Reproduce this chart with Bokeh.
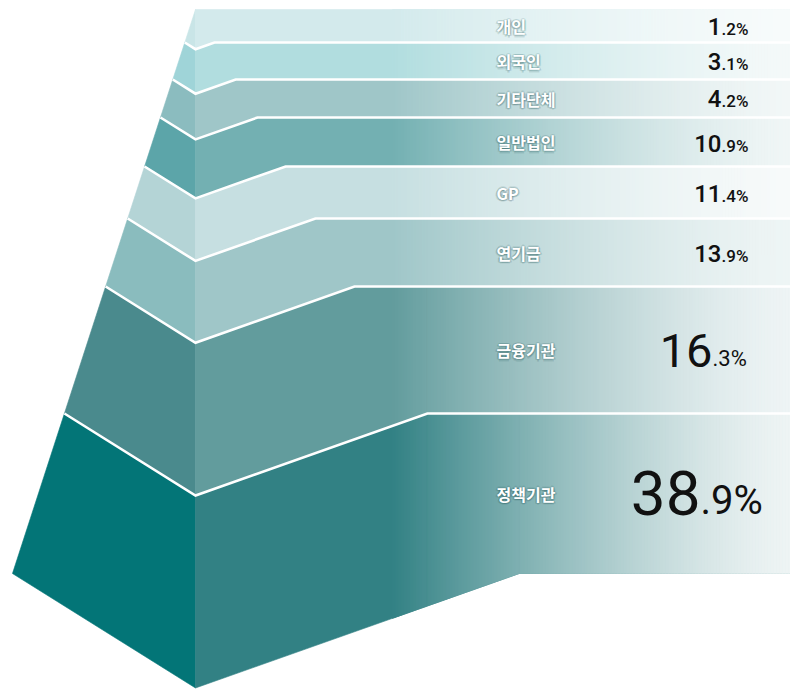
import numpy as np
from bokeh.plotting import figure
from bokeh.models import Range1d, ColumnDataSource
from bokeh.core.properties import value
from bokeh.embed import file_html
from bokeh.resources import INLINE

# ---- data ----
categories = ["개인", "외국인", "기타단체", "일반법인", "GP", "연기금", "금융기관", "정책기관"]
shares = [1.2, 3.1, 4.2, 10.9, 11.4, 13.9, 16.3, 38.9]

# ---- layout / styling ----
band_heights = [33, 37, 38, 49, 52, 68, 127, 160]
left_colors = ["#c9e5e7", "#9fd4d8", "#8bbcbf", "#5ca5a9", "#b4d4d6", "#8abcbe", "#4a8a8d", "#037577"]
right_start = ["#d3eaec", "#b1dddf", "#9fc6c8", "#73b0b2", "#c6dfe1", "#9fc6c8", "#629c9d", "#328184"]
right_end = ["#f7fbfb", "#f4f9f9", "#f2f7f7", "#f0f6f6", "#f7fafa", "#eef5f5", "#eef4f5", "#eef4f4"]
int_sizes = [24, 24, 24, 24, 24, 24, 47, 62]
dec_sizes = [17, 17, 17, 17, 17, 17, 22, 40]
split_x = [721, 721, 721, 721, 721, 721, 712, 700]
baseline_drop = [8.5, 8.5, 8.5, 9.5, 9.5, 9.5, 16.5, 21]
num_fonts = ["Roboto Medium, Roboto"] * 6 + ["Roboto"] * 2

W, H = 790, 691
TOP, CX = 9, 195
LEFT_SLOPE, DEPTH, RIGHT_RUN = 0.3245, 0.203, 0.574
G0 = 392
MID = 0.35  # em offset from alphabetic baseline to "middle"

yh = TOP + np.concatenate([[0], np.cumsum(band_heights)])


def bnd(k):
    t = yh[k] - TOP
    return CX - LEFT_SLOPE * t, yh[k] + DEPTH * t, CX + RIGHT_RUN * t


def right_y(k, x):
    lx, vy, kx = bnd(k)
    if kx <= CX or x >= kx:
        return float(yh[k])
    return vy - (vy - yh[k]) * (x - CX) / (kx - CX)


def hex2rgb(h):
    h = h.lstrip("#")
    return np.array([int(h[i:i + 2], 16) for i in (0, 2, 4)], dtype=float)


def mix(a, b, f):
    c = hex2rgb(a) * (1 - f) + hex2rgb(b) * f
    return "#%02x%02x%02x" % tuple(int(round(v)) for v in c)


p = figure(width=W, height=H, output_backend="svg", toolbar_location=None,
           x_range=Range1d(0, W), y_range=Range1d(H, 0),
           x_axis_type=None, y_axis_type=None, min_border=0,
           min_border_left=0, min_border_right=0, min_border_top=0, min_border_bottom=0)
p.grid.visible = False
p.outline_line_color = None
p.background_fill_color = "white"
p.border_fill_color = "white"

n = len(categories)
lxs, lys, lcs = [], [], []
rxs, rys, rcs = [], [], []
gxs, gys, gcs = [], [], []
for i in range(n):
    lx0, vy0, kx0 = bnd(i)
    lx1, vy1, kx1 = bnd(i + 1)
    lxs.append([lx0, CX, CX, lx1])
    lys.append([yh[i], vy0, vy1, yh[i + 1]])
    lcs.append(left_colors[i])
    rxs.append([CX, kx0, W, W, kx1, CX])
    rys.append([vy0, yh[i], yh[i], yh[i + 1], yh[i + 1], vy1])
    rcs.append(right_start[i])
    br = set(np.arange(G0, W, 3.0).tolist())
    br.add(float(W))
    for k in (kx0, kx1):
        if k > G0:
            br.add(float(k))
    br = sorted(br)
    for a, b in zip(br[:-1], br[1:]):
        m = 0.5 * (a + b)
        t = (m - G0) / (W - G0)
        f = 1 - (1 - t) ** 1.35
        col = mix(right_start[i], right_end[i], f)
        gxs.append([a, b, b, a])
        gys.append([right_y(i, a), right_y(i, b), right_y(i + 1, b), right_y(i + 1, a)])
        gcs.append(col)

p.patches(lxs, lys, fill_color=lcs, line_color=lcs, line_width=0.6)
p.patches(rxs, rys, fill_color=rcs, line_color=rcs, line_width=0.6)
p.patches(gxs, gys, fill_color=gcs, line_color=gcs, line_width=0.8)

# white separators
for k in range(1, n):
    lx, vy, kx = bnd(k)
    p.line([lx, CX, kx, W], [yh[k], vy, yh[k], yh[k]], line_color="white", line_width=2.6,
           line_join="miter")

# labels
centers = [(yh[i] + yh[i + 1]) / 2.0 for i in range(n)]
label_x = 496
kfont = value("Noto Sans CJK KR")
offsets = [(-1.5, 0), (1.5, 0), (0, -1.5), (0, 1.5), (-1, -1), (1, 1), (-1, 1), (1, -1),
           (0, 2.5), (-2, 1), (2, 1)]
for dx, dy in offsets:
    p.text(x=[label_x + dx] * n, y=[c + dy for c in centers], text=categories,
           text_color="#1f5556", text_alpha=0.11, text_font=kfont, text_font_style="bold",
           text_font_size="16px", text_baseline="middle", text_align="left")
p.text(x=[label_x] * n, y=centers, text=categories, text_color="white",
       text_font=kfont, text_font_style="bold", text_font_size="16px",
       text_baseline="middle", text_align="left")

# values
int_txt, dec_txt = [], []
for s in shares:
    a, b = ("%.1f" % s).split(".")
    int_txt.append(a)
    dec_txt.append("." + b + "%")
base = [centers[i] + baseline_drop[i] for i in range(n)]
src = ColumnDataSource(dict(x=split_x,
                            yi=[base[i] - MID * int_sizes[i] for i in range(n)],
                            yd=[base[i] - MID * dec_sizes[i] for i in range(n)],
                            it=int_txt, dt=dec_txt, fnt=num_fonts,
                            isz=["%dpx" % s for s in int_sizes],
                            dsz=["%dpx" % s for s in dec_sizes]))
p.text(x="x", y="yi", text="it", source=src, text_font="fnt", text_font_size="isz",
       text_color="#111111", text_align="right", text_baseline="middle")
p.text(x="x", y="yd", text="dt", source=src, text_font="fnt", text_font_size="dsz",
       text_color="#111111", text_align="left", text_baseline="middle")

open("out.html", "w").write(file_html(p, INLINE))
